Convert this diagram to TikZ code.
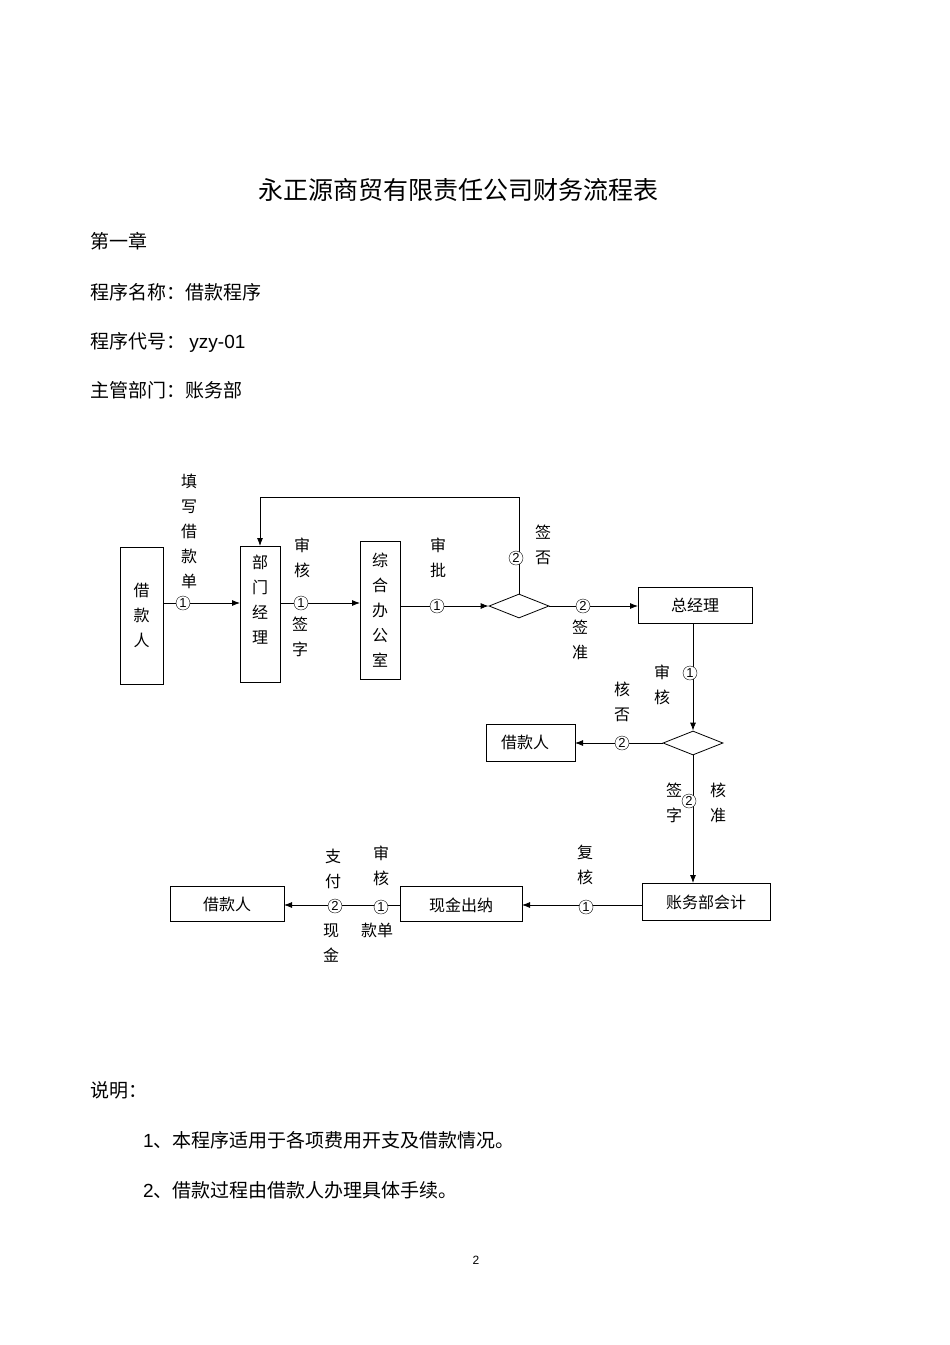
\documentclass[tikz,border=0pt]{standalone}
\usepackage{fontspec}
\setmainfont{Noto Sans CJK SC}
\setsansfont{Liberation Sans}
\usetikzlibrary{shapes.geometric,arrows.meta}
\begin{document}
\begin{tikzpicture}[x=1pt,y=-1pt,
  box/.style={draw,thick,minimum width=#1,inner sep=0pt},
  lab/.style={font=\fontsize{16}{25}\selectfont,align=center,inner sep=0pt},
  num/.style={draw,circle,fill=white,inner sep=0pt,minimum size=14pt,font=\sffamily\fontsize{13}{13}\selectfont},
  arr/.style={thick,-{Latex[length=8pt,width=6pt]}},
  ln/.style={thick},
  dia/.style={draw,thick,diamond,aspect=2.6,minimum width=60pt,minimum height=24pt,inner sep=0pt},
  txt/.style={anchor=west,inner sep=0pt,font=\fontsize{19}{22}\selectfont}]
\useasboundingbox (0,0) rectangle (950,1345);
\node[inner sep=0pt,font=\fontsize{25}{28}\selectfont] (title) at (458,190) {永正源商贸有限责任公司财务流程表};
\node[txt] (t1) at (90,241) {第一章};
\node[txt] (t2) at (90,292) {程序名称：借款程序};
\node[txt] (t3) at (90,342) {程序代号：\ {\sffamily yzy-01}};
\node[txt] (t4) at (90,390) {主管部门：账务部};
\node[txt] (t5) at (90,1090) {说明：};
\node[txt] (t6) at (143,1140) {{\sffamily 1}、本程序适用于各项费用开支及借款情况。};
\node[txt] (t7) at (143,1190) {{\sffamily 2}、借款过程由借款人办理具体手续。};
\node[inner sep=0pt,font=\sffamily\fontsize{12}{12}\selectfont] (pg) at (476,1260) {2};

% boxes
\draw[thick] (120,547) rectangle (163,684); \node[lab] (b1) at (141.5,615) {借\\款\\人};
\draw[thick] (240,546) rectangle (280,682); \node[lab] (b2) at (260,600) {部\\门\\经\\理};
\coordinate (b2t) at (260,546);
\draw[thick] (360,541) rectangle (400,679); \node[lab] (b3) at (380,610) {综\\合\\办\\公\\室};
\node[dia] (d1) at (519,606) {};
\draw[thick] (638,587) rectangle (752,623); \node[lab] (gm) at (695,605) {总经理};
\node[dia] (d2) at (693,743) {};
\draw[thick] (486,724) rectangle (575,761); \node[lab] (br2) at (525,742) {借款人};
\draw[thick] (642,883) rectangle (770,920); \node[lab] (acc) at (706,902) {账务部会计};
\draw[thick] (400,886) rectangle (522,921); \node[lab] (cash) at (461,905) {现金出纳};
\draw[thick] (170,886) rectangle (284,921); \node[lab] (br3) at (227,904) {借款人};

\coordinate (b1r) at (163,603); \coordinate (b2l) at (240,603);
\coordinate (b2r) at (280,603); \coordinate (b3l) at (360,603);
\coordinate (b3r) at (400,606);
\coordinate (gml) at (638,606); \coordinate (gmb) at (693,623);
\coordinate (br2r) at (575,743);
\coordinate (acct) at (693,883); \coordinate (accl) at (642,905);
\coordinate (cashr) at (522,905); \coordinate (cashl) at (400,905);
\coordinate (br3r) at (284,905);
\coordinate (c1) at (519,497); \coordinate (c2) at (260,497);

\draw[arr] (b1r) -- (b2l); \node[num] (n1) at (183,603) {1};
\node[lab] (l1) at (189,531) {填\\写\\借\\款\\单};
\draw[arr] (b2r) -- (b3l); \node[num] (n2) at (301,603) {1};
\node[lab] (l2) at (302,558) {审\\核}; \node[lab] (l3) at (300,637) {签\\字};
\draw[arr] (b3r) -- (d1.west); \node[num] (n3) at (437,606) {1};
\node[lab] (l4) at (438,558) {审\\批};
\draw[arr] (d1.east) -- (gml); \node[num] (n4) at (583,606) {2};
\node[lab] (l5) at (580,640) {签\\准};
\draw[arr] (d1.north) -- (c1) -- (c2) -- (b2t); \node[num] (n5) at (516,558) {2};
\node[lab] (l6) at (543,545) {签\\否};
\draw[arr] (gmb) -- (d2.north); \node[num] (n6) at (690,673) {1};
\node[lab] (l7) at (662,685) {审\\核}; \node[lab] (l8) at (622,702) {核\\否};
\draw[arr] (d2.west) -- (br2r); \node[num] (n7) at (622,743) {2};
\draw[arr] (d2.south) -- (acct); \node[num] (n8) at (689,801) {2};
\node[lab] (l9) at (674,803) {签\\字}; \node[lab] (l10) at (718,803) {核\\准};
\draw[arr] (accl) -- (cashr); \node[num] (n9) at (586,907) {1};
\node[lab] (l11) at (585,865) {复\\核};
\draw[arr] (cashl) -- (br3r); \node[num] (n10) at (381,907) {1}; \node[num] (n11) at (335,906) {2};
\node[lab] (l12) at (381,866) {审\\核}; \node[lab] (l13) at (377,930) {款单};
\node[lab] (l14) at (333,869) {支\\付}; \node[lab] (l15) at (331,943) {现\\金};
\end{tikzpicture}
\end{document}
